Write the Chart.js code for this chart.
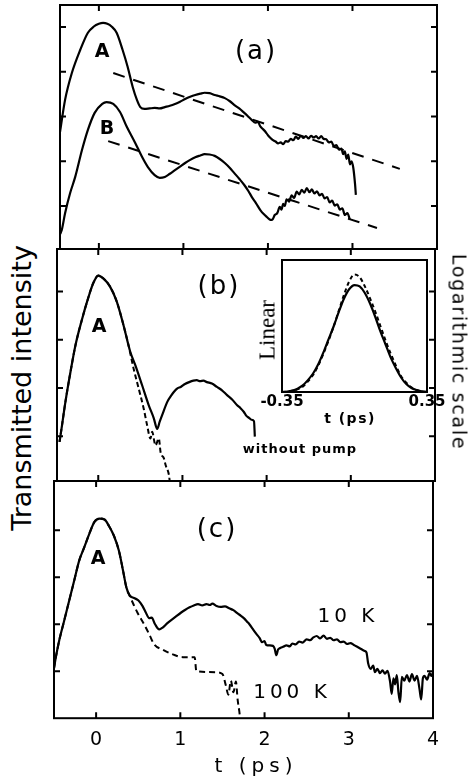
<!DOCTYPE html>
<html>
<head>
<meta charset="UTF-8">
<script src="https://cdn.jsdelivr.net/npm/chart.js"></script>
<style>
  * { margin:0; padding:0; box-sizing:border-box; }
  body { background:#fff; width:472px; height:780px; overflow:hidden; }
  #fig { position:relative; width:472px; height:780px; font-family:'DejaVu Sans', sans-serif; color:#000; }
  canvas { position:absolute; }
  .lbl { position:absolute; white-space:nowrap; line-height:1; transform:translate(-50%,-50%); }
  .rotL { transform:translate(-50%,-50%) rotate(-90deg); }
  .rotR { transform:translate(-50%,-50%) rotate(90deg); }
</style>
</head>
<body>
<div id="fig">
  <canvas id="cA" width="420" height="262" style="left:40px;top:0px"></canvas>
  <canvas id="cB" width="420" height="252" style="left:40px;top:240px"></canvas>
  <canvas id="cC" width="420" height="306" style="left:40px;top:474px"></canvas>
  <canvas id="cIn" width="200" height="175" style="left:250px;top:255px"></canvas>

  <div class="lbl" style="left:256px;top:50px;font-size:26px;letter-spacing:2px">(a)</div>
  <div class="lbl" style="left:102px;top:50px;font-size:19px;font-weight:bold">A</div>
  <div class="lbl" style="left:107px;top:127px;font-size:19px;font-weight:bold">B</div>

  <div class="lbl" style="left:219px;top:285px;font-size:26px;letter-spacing:2px">(b)</div>
  <div class="lbl" style="left:99px;top:325px;font-size:19px;font-weight:bold">A</div>
  <div class="lbl" style="left:300px;top:448px;font-size:13px;font-weight:bold;letter-spacing:1px">without pump</div>
  <div class="lbl" style="left:350px;top:418px;font-size:14px;font-weight:bold;letter-spacing:1.5px">t (ps)</div>
  <div class="lbl rotL" style="left:267px;top:330px;font-size:23px;font-family:'Liberation Serif',serif">Linear</div>

  <div class="lbl" style="left:217px;top:528px;font-size:26px;letter-spacing:2px">(c)</div>
  <div class="lbl" style="left:98px;top:557px;font-size:19px;font-weight:bold">A</div>
  <div class="lbl" style="left:348px;top:615px;font-size:20px;letter-spacing:4px">10 K</div>
  <div class="lbl" style="left:292px;top:691px;font-size:20px;letter-spacing:4px">100 K</div>

  <div class="lbl" style="left:256px;top:765px;font-size:20px;letter-spacing:5px">t (ps)</div>
  <div class="lbl rotL" style="left:21px;top:388px;font-size:27px">Transmitted intensity</div>
  <div class="lbl rotR" style="left:459px;top:352px;font-size:19px;letter-spacing:1.7px">Logarithmic scale</div>
</div>

<script>
// time ticks (ps) and decade ticks (log scale, in decades)
const xTickVals = [0, 1, 2, 3, 4];
const decTicksA = [1, 2, 3, 4, 5];
const decTicksBC = [1, 2, 3, 4];
const insetTicks = [-0.35, 0.35];

// panel (a): [t, decades]
const aCurveA = [[-0.46,2.65],[-0.40,3.37],[-0.32,3.97],[-0.22,4.49],[-0.13,4.87],[-0.06,5.01],[0.0,5.07],[0.05,5.09],[0.10,5.07],[0.15,5.01],[0.21,4.87],[0.28,4.49],[0.34,4.11],[0.40,3.66],[0.45,3.37],[0.49,3.21],[0.54,3.17],[0.60,3.18],[0.66,3.19],[0.72,3.18],[0.78,3.21],[0.84,3.24],[0.90,3.28],[0.96,3.33],[1.02,3.39],[1.08,3.44],[1.14,3.48],[1.20,3.51],[1.25,3.53],[1.31,3.52],[1.37,3.48],[1.43,3.45],[1.49,3.41],[1.55,3.34],[1.60,3.26],[1.66,3.18],[1.72,3.08],[1.76,3.01],[1.81,2.92],[1.85,2.86],[1.88,2.88],[1.91,2.78],[1.94,2.72],[1.97,2.66],[2.00,2.58],[2.03,2.52],[2.06,2.47],[2.09,2.44],[2.12,2.40],[2.15,2.42],[2.18,2.38],[2.21,2.45],[2.24,2.44],[2.27,2.50],[2.30,2.47],[2.33,2.55],[2.36,2.50],[2.39,2.57],[2.42,2.52],[2.45,2.56],[2.48,2.51],[2.51,2.57],[2.54,2.53],[2.57,2.56],[2.60,2.51],[2.63,2.56],[2.66,2.50],[2.69,2.49],[2.72,2.42],[2.75,2.44],[2.78,2.34],[2.81,2.36],[2.84,2.26],[2.87,2.28],[2.89,2.16],[2.91,2.22],[2.93,2.05],[2.95,2.15],[2.97,1.93],[2.99,2.00],[3.01,1.85],[3.03,1.50],[3.04,1.25]];
const aCurveB = [[-0.49,0.28],[-0.44,0.46],[-0.40,0.84],[-0.34,1.29],[-0.28,1.65],[-0.20,2.25],[-0.13,2.70],[-0.05,3.08],[0.04,3.28],[0.09,3.32],[0.17,3.28],[0.25,3.10],[0.33,2.77],[0.43,2.41],[0.51,2.10],[0.58,1.87],[0.66,1.69],[0.72,1.63],[0.78,1.65],[0.84,1.72],[0.90,1.80],[0.96,1.88],[1.02,1.96],[1.08,2.03],[1.14,2.09],[1.20,2.13],[1.25,2.16],[1.31,2.15],[1.37,2.12],[1.43,2.05],[1.49,1.96],[1.55,1.85],[1.60,1.74],[1.66,1.61],[1.72,1.47],[1.77,1.33],[1.81,1.20],[1.86,1.06],[1.91,0.91],[1.95,0.82],[1.99,0.75],[2.02,0.70],[2.05,0.69],[2.08,0.80],[2.11,0.84],[2.14,0.98],[2.16,0.92],[2.18,1.05],[2.20,1.00],[2.22,1.15],[2.25,1.10],[2.28,1.24],[2.31,1.18],[2.34,1.32],[2.37,1.26],[2.40,1.36],[2.43,1.30],[2.46,1.40],[2.49,1.31],[2.52,1.37],[2.55,1.28],[2.58,1.33],[2.61,1.24],[2.64,1.27],[2.67,1.17],[2.70,1.20],[2.73,1.08],[2.76,1.12],[2.79,1.01],[2.82,1.04],[2.85,0.92],[2.88,0.95],[2.91,0.80],[2.94,0.84],[2.97,0.69]];
const aFitA = [[0.17,3.97],[3.56,1.83]];
const aFitB = [[0.11,2.45],[3.29,0.51]];

// panel (b)
const bWithPump = [[-0.46,0.88],[-0.43,1.23],[-0.39,1.71],[-0.33,2.33],[-0.27,2.89],[-0.19,3.44],[-0.12,3.86],[-0.06,4.17],[0.0,4.33],[0.06,4.27],[0.14,4.10],[0.22,3.79],[0.30,3.30],[0.38,2.75],[0.44,2.47],[0.52,2.06],[0.60,1.64],[0.66,1.37],[0.70,1.15],[0.73,1.30],[0.76,1.44],[0.82,1.71],[0.87,1.85],[0.90,1.92],[0.94,1.99],[0.98,2.02],[1.03,2.08],[1.08,2.12],[1.13,2.15],[1.17,2.16],[1.21,2.14],[1.25,2.15],[1.29,2.12],[1.35,2.09],[1.41,2.02],[1.47,1.95],[1.53,1.85],[1.59,1.76],[1.65,1.64],[1.69,1.58],[1.73,1.50],[1.76,1.42],[1.79,1.38],[1.82,1.34],[1.85,1.31],[1.86,0.99]];
const bNoPump = [[-0.46,0.88],[-0.43,1.23],[-0.39,1.71],[-0.33,2.33],[-0.27,2.89],[-0.19,3.44],[-0.12,3.86],[-0.06,4.17],[0.0,4.33],[0.06,4.27],[0.14,4.10],[0.22,3.79],[0.30,3.30],[0.36,2.88],[0.42,2.40],[0.48,1.99],[0.54,1.57],[0.58,1.23],[0.62,0.95],[0.64,1.09],[0.68,0.81],[0.72,0.95],[0.74,0.67],[0.78,0.54],[0.80,0.40],[0.84,0.19],[0.85,0.05]];

// inset (linear)
const insetT = [-0.35,-0.325,-0.3,-0.275,-0.25,-0.225,-0.2,-0.175,-0.15,-0.125,-0.1,-0.075,-0.05,-0.025,0,0.025,0.05,0.075,0.1,0.125,0.15,0.175,0.2,0.225,0.25,0.275,0.3,0.325,0.35];
const insetSolid = [0,0.003,0.01,0.025,0.05,0.09,0.14,0.21,0.30,0.40,0.50,0.61,0.71,0.78,0.81,0.80,0.75,0.67,0.57,0.46,0.36,0.26,0.18,0.11,0.06,0.03,0.015,0.005,0];
const insetDash = [0,0.003,0.01,0.02,0.04,0.08,0.13,0.20,0.29,0.39,0.50,0.62,0.74,0.84,0.89,0.87,0.80,0.71,0.61,0.50,0.39,0.29,0.20,0.12,0.07,0.035,0.015,0.005,0];

// panel (c)
const c10K = [[-0.50,1.06],[-0.48,1.28],[-0.44,1.64],[-0.38,2.07],[-0.32,2.50],[-0.26,2.93],[-0.20,3.36],[-0.14,3.64],[-0.08,3.93],[-0.02,4.18],[0.04,4.25],[0.10,4.23],[0.15,4.10],[0.21,3.89],[0.27,3.57],[0.32,3.14],[0.36,2.78],[0.40,2.61],[0.45,2.56],[0.50,2.51],[0.55,2.39],[0.59,2.25],[0.63,2.13],[0.66,2.14],[0.70,2.00],[0.75,1.89],[0.79,1.93],[0.85,2.03],[0.93,2.14],[1.01,2.25],[1.06,2.31],[1.11,2.36],[1.16,2.40],[1.21,2.43],[1.26,2.40],[1.31,2.43],[1.35,2.41],[1.38,2.44],[1.43,2.39],[1.48,2.37],[1.53,2.38],[1.58,2.34],[1.63,2.30],[1.68,2.23],[1.72,2.18],[1.76,2.12],[1.79,2.06],[1.82,2.00],[1.86,1.90],[1.90,1.80],[1.94,1.71],[1.97,1.62],[2.00,1.64],[2.02,1.56],[2.06,1.55],[2.10,1.54],[2.12,1.48],[2.14,1.34],[2.16,1.46],[2.18,1.49],[2.22,1.52],[2.26,1.55],[2.30,1.53],[2.33,1.59],[2.37,1.57],[2.41,1.63],[2.45,1.61],[2.50,1.68],[2.54,1.66],[2.58,1.72],[2.62,1.75],[2.66,1.70],[2.70,1.76],[2.74,1.69],[2.78,1.71],[2.82,1.66],[2.86,1.68],[2.90,1.62],[2.94,1.63],[2.98,1.58],[3.02,1.60],[3.06,1.56],[3.10,1.52],[3.14,1.48],[3.19,1.43],[3.21,1.40],[3.23,1.17],[3.26,1.05],[3.29,1.12],[3.31,0.98],[3.34,1.05],[3.37,0.96],[3.40,1.02],[3.43,0.95],[3.46,1.01],[3.49,0.78],[3.51,0.52],[3.53,0.85],[3.55,0.72],[3.57,0.92],[3.59,0.55],[3.61,0.34],[3.63,0.88],[3.66,0.80],[3.69,0.92],[3.72,0.78],[3.75,0.94],[3.78,0.80],[3.81,0.90],[3.84,0.62],[3.86,0.40],[3.88,0.85],[3.90,0.90],[3.93,0.82],[3.96,0.96],[3.98,0.90],[4.00,0.97]];
const c100K = [[-0.50,1.06],[-0.48,1.28],[-0.44,1.64],[-0.38,2.07],[-0.32,2.50],[-0.26,2.93],[-0.20,3.36],[-0.14,3.64],[-0.08,3.93],[-0.02,4.18],[0.04,4.25],[0.10,4.23],[0.15,4.10],[0.21,3.89],[0.27,3.57],[0.32,3.14],[0.36,2.78],[0.40,2.60],[0.45,2.40],[0.49,2.25],[0.57,2.00],[0.63,1.79],[0.69,1.57],[0.79,1.46],[0.91,1.36],[1.03,1.30],[1.17,1.30],[1.19,1.00],[1.42,0.98],[1.50,0.94],[1.54,0.70],[1.57,0.50],[1.60,0.80],[1.63,0.55],[1.66,0.78],[1.68,0.40],[1.70,0.15],[1.71,0.0]];

const frameTicks = {
  id: 'frameTicks',
  afterDraw(chart, args, opts) {
    const { ctx, chartArea: a, scales: { x, y } } = chart;
    ctx.save();
    ctx.strokeStyle = '#000';
    ctx.lineWidth = opts.width || 2;
    ctx.strokeRect(a.left, a.top, a.right - a.left, a.bottom - a.top);
    const len = opts.len || 0;
    ctx.beginPath();
    (opts.xt || []).forEach(v => {
      const px = x.getPixelForValue(v);
      ctx.moveTo(px, a.top); ctx.lineTo(px, a.top + len);
      ctx.moveTo(px, a.bottom); ctx.lineTo(px, a.bottom - len);
    });
    (opts.yt || []).forEach(v => {
      const py = y.getPixelForValue(v);
      ctx.moveTo(a.left, py); ctx.lineTo(a.left + len, py);
      ctx.moveTo(a.right, py); ctx.lineTo(a.right - len, py);
    });
    ctx.stroke();
    ctx.restore();
  }
};

const line = (pts, dash, w) => ({
  data: pts.map(([x, y]) => ({ x, y })),
  borderColor: '#000', borderWidth: w || 2.2, borderDash: dash || [],
  pointRadius: 0, cubicInterpolationMode: 'monotone', fill: false
});

function panel(id, datasets, xMin, yMin, yMax, pad, yt, showX) {
  return new Chart(document.getElementById(id), {
    type: 'line',
    data: { datasets },
    plugins: [frameTicks],
    options: {
      responsive: false, animation: false,
      layout: { padding: pad },
      plugins: { legend: { display: false }, tooltip: { enabled: false },
        frameTicks: { xt: xTickVals.slice(0, 4), yt, len: 6, width: 2 } },
      scales: {
        x: {
          type: 'linear', min: xMin, max: 4, display: !!showX,
          grid: { display: false, drawTicks: false }, border: { display: false },
          afterBuildTicks: s => { s.ticks = xTickVals.map(v => ({ value: v })); },
          ticks: { padding: 10, color: '#000', font: { family: 'DejaVu Sans', size: 19 }, maxRotation: 0 }
        },
        y: { type: 'linear', min: yMin, max: yMax, display: false }
      }
    }
  });
}

panel('cA', [line(aCurveA), line(aCurveB), line(aFitA, [12, 9], 2), line(aFitB, [12, 9], 2)],
  -0.46, 0.04, 5.49, { left: 20, top: 5, right: 23, bottom: 13 }, decTicksA, false);
panel('cB', [line(bWithPump), line(bNoPump, [5, 3], 2)],
  -0.49, 0.07, 4.88, { left: 17, top: 9, right: 25, bottom: 11 }, decTicksBC, false);
panel('cC', [line(c10K), line(c100K, [6, 4], 2)],
  -0.5, 0, 5.05, { left: 14, top: 7, right: 27, bottom: 19 }, decTicksBC, true);

new Chart(document.getElementById('cIn'), {
  type: 'line',
  data: {
    datasets: [
      { data: insetSolid, borderColor: '#000', borderWidth: 2.2, pointRadius: 0, cubicInterpolationMode: 'monotone' },
      { data: insetDash, borderColor: '#000', borderWidth: 2, borderDash: [4, 3], pointRadius: 0, cubicInterpolationMode: 'monotone' }
    ].map(d => ({ ...d, data: d.data.map((v, i) => ({ x: insetT[i], y: v })) }))
  },
  plugins: [frameTicks],
  options: {
    responsive: false, animation: false,
    layout: { padding: { left: 32, top: 5, right: 23, bottom: 18 } },
    plugins: { legend: { display: false }, tooltip: { enabled: false }, frameTicks: { width: 2, len: 0 } },
    scales: {
      x: {
        type: 'linear', min: -0.35, max: 0.35,
        grid: { display: false, drawTicks: false }, border: { display: false },
        afterBuildTicks: s => { s.ticks = insetTicks.map(v => ({ value: v })); },
        ticks: { padding: 1, color: '#000', maxRotation: 0, font: { family: 'DejaVu Sans', size: 15, weight: 'bold' },
          callback: v => v.toFixed(2) }
      },
      y: { type: 'linear', min: 0, max: 1, display: false }
    }
  }
});
</script>
</body>
</html>
